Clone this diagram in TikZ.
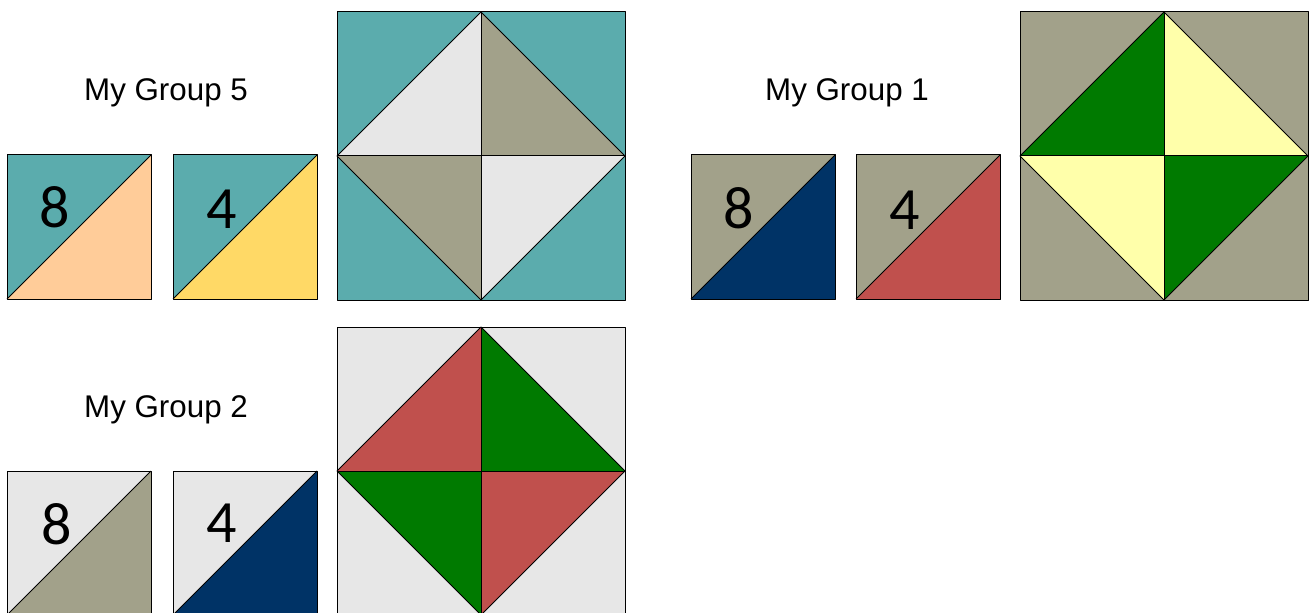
\documentclass[tikz,border=0pt]{standalone}
\usepackage{fontspec}
\setmainfont{Liberation Sans}
\newfontfamily\digitfont{Carlito}
\definecolor{cteal}{HTML}{5BACAD}
\definecolor{cpeach}{HTML}{FFCC99}
\definecolor{cyel}{HTML}{FFD966}
\definecolor{colive}{HTML}{A2A18A}
\definecolor{clgray}{HTML}{E7E7E7}
\definecolor{cnavy}{HTML}{003366}
\definecolor{cred}{HTML}{C0504D}
\definecolor{cgreen}{HTML}{007A00}
\definecolor{cpale}{HTML}{FFFFAA}
\newcommand{\myhst}[4]{%
  \fill[#4] (#1,#2+144) -- (#1+144,#2) -- (#1+144,#2+144) -- cycle;
  \fill[#3] (#1,#2+144) -- (#1,#2) -- (#1+144,#2) -- cycle;
  \draw[edge] (#1,#2) rectangle (#1+144,#2+144);
  \draw[edge] (#1,#2+144) -- (#1+144,#2);
}
\newcommand{\mybig}[5]{%
  \fill[#3] (#1,#2) rectangle (#1+288,#2+288);
  \fill[#4] (#1,#2+144) -- (#1+144,#2) -- (#1+144,#2+144) -- cycle;
  \fill[#4] (#1+144,#2+144) -- (#1+288,#2+144) -- (#1+144,#2+288) -- cycle;
  \fill[#5] (#1+144,#2) -- (#1+288,#2+144) -- (#1+144,#2+144) -- cycle;
  \fill[#5] (#1,#2+144) -- (#1+144,#2+144) -- (#1+144,#2+288) -- cycle;
  \draw[edge] (#1,#2) rectangle (#1+288,#2+288);
  \draw[edge] (#1,#2+144) -- (#1+144,#2) -- (#1+288,#2+144) -- (#1+144,#2+288) -- cycle;
  \draw[edge] (#1,#2+144) -- (#1+288,#2+144);
  \draw[edge] (#1+144,#2) -- (#1+144,#2+288);
}
\tikzset{
  edge/.style={draw=black, line width=0.75pt, line join=round},
  title/.style={font=\fontsize{23.5}{28}\selectfont, inner sep=0pt},
  digit/.style={font=\digitfont\fontsize{45}{52}\selectfont, inner sep=0pt}
}
\begin{document}
\begin{tikzpicture}[x=0.75pt,y=-0.75pt]
\useasboundingbox (0,0) rectangle (1311,613);
\clip (0,0) rectangle (1311,613);
% Group 5
\myhst{7}{155}{cteal}{cpeach}
\myhst{173}{155}{cteal}{cyel}
\mybig{337}{12}{cteal}{clgray}{colive}
\node[title] (t5) at (166,93) {My Group 5};
\node[digit] (d58) at (55,207) {8};
\node[digit] (d54) at (222,209) {4};
% Group 1
\myhst{691}{155}{colive}{cnavy}
\myhst{856}{155}{colive}{cred}
\mybig{1020}{12}{colive}{cgreen}{cpale}
\node[title] (t1) at (847,93) {My Group 1};
\node[digit] (d18) at (739,208) {8};
\node[digit] (d14) at (905,210) {4};
% Group 2
\myhst{7}{471}{clgray}{colive}
\myhst{173}{471}{clgray}{cnavy}
\mybig{337}{327}{clgray}{cred}{cgreen}
\node[title] (t2) at (166,410) {My Group 2};
\node[digit] (d28) at (57,524) {8};
\node[digit] (d24) at (222,523) {4};
\end{tikzpicture}
\end{document}
